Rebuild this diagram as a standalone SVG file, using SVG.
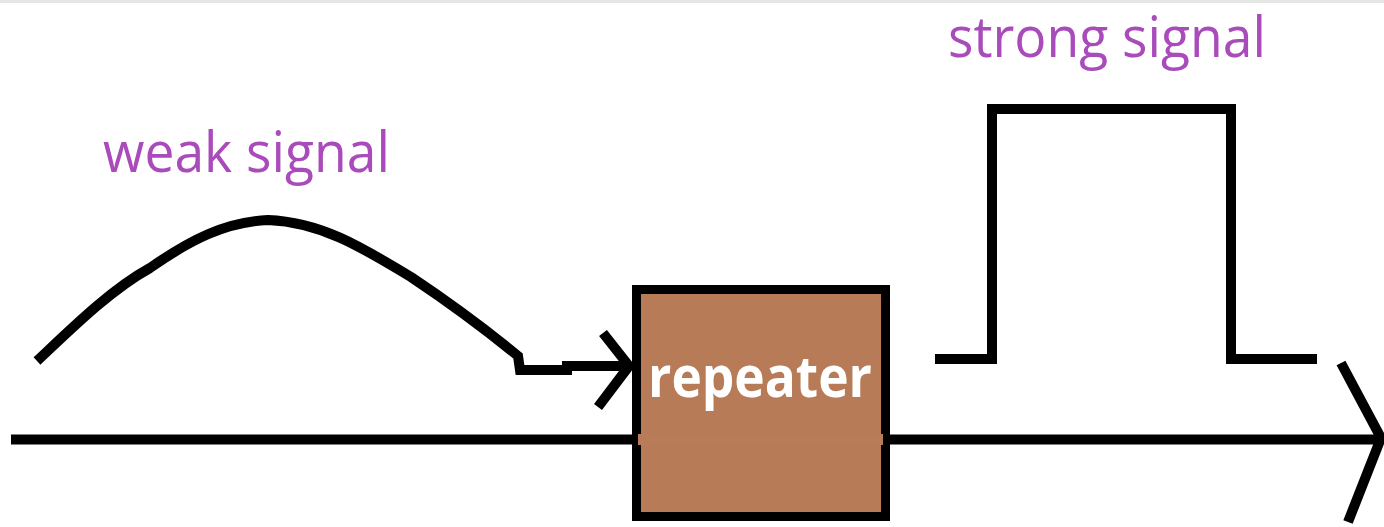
<svg xmlns="http://www.w3.org/2000/svg" width="1384" height="527" viewBox="0 0 1384 527">
  <style>
    .wire { fill: none; stroke: #000; stroke-width: 10; stroke-linejoin: miter; stroke-linecap: butt; }
    .label { font-family: "Open Sans", "Liberation Sans", sans-serif; font-size: 56px; fill: #A94BBA; }
    .boxtext { font-family: "Open Sans", "Liberation Sans", sans-serif; font-weight: bold; font-size: 58px; fill: #FFFFFF; }
  </style>
  <rect x="0" y="0" width="1384" height="527" fill="#FFFFFF"/>
  <rect x="0" y="0" width="1384" height="3" fill="#E6E6E6"/>

  <g id="connectors">
    <!-- main line -->
    <line class="wire" x1="11" y1="439.5" x2="1380" y2="439.5" stroke-width="11"/>
    <!-- main arrowhead -->
    <polyline class="wire" points="1341,363 1381,438 1348,522" stroke-width="9"/>
    <!-- weak signal wave -->
    <path class="wire" stroke-width="9" d="M37,361 C70,330 110,290 150,268 C190,240 225,222 268,220 C320,222 360,246 411,277 C450,303 490,333 518,356 L520,370 L567,370 L567,366 L626,366"/>
    <!-- input arrowhead -->
    <polyline class="wire" points="603,333 629,366 598,407" stroke-width="9"/>
    <!-- strong signal pulse -->
    <polyline class="wire" points="935,359 992,359 992,109 1231,109 1231,359 1317,359"/>
  </g>

  <g id="repeater">
    <rect x="636.5" y="289.5" width="249" height="227" fill="#B87B57" stroke="#000" stroke-width="9"/>
    <rect x="638" y="434" width="245" height="11" fill="#B97C58"/>
    <text class="boxtext" x="648" y="397" textLength="224" lengthAdjust="spacingAndGlyphs">repeater</text>
  </g>

  <g id="weak-signal-label">
    <text class="label" x="103" y="172" textLength="287" lengthAdjust="spacingAndGlyphs">weak signal</text>
  </g>

  <g id="strong-signal-label">
    <text class="label" x="948" y="57" font-size="53" textLength="318" lengthAdjust="spacingAndGlyphs">strong signal</text>
  </g>
</svg>
